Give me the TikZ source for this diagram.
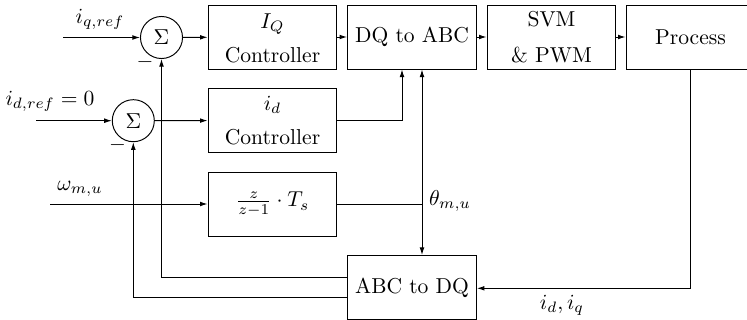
\documentclass[tikz,border=0pt]{standalone}
\usetikzlibrary{arrows.meta,calc}
\tikzset{
  blk/.style={draw, line width=0.45pt, inner sep=0pt, minimum width=2.1cm, minimum height=1.043cm, align=center},
  sumnode/.style={draw, circle, line width=0.45pt, inner sep=0pt, minimum size=0.685cm},
  conn/.style={line width=0.45pt},
  lbl/.style={inner sep=0pt},
  >={Latex[length=3.5pt,width=2.2pt]}
}
\begin{document}
\begin{tikzpicture}[x=0.0163cm, y=-0.0163cm]
\useasboundingbox (0,0) rectangle (747,320);
% blocks
\node[sumnode] (s1) at (161.5,37.5) {$\Sigma$};
\node[sumnode] (s2) at (133.3,120.7) {$\Sigma$};
\node[blk] (iqc) at (272.5,37) {\raisebox{0pt}[8pt][0pt]{$I_Q$}\\[4pt] Controller};
\node[blk] (idc) at (272.5,120.5) {$i_d$\\[4pt] Controller};
\node[blk] (dq) at (412,37) {DQ to ABC};
\node[blk] (svm) at (551.5,37) {SVM\\[4.5pt] \& PWM};
\node[blk] (proc) at (690.5,37) {Process};
\node[blk] (zb) at (272.5,204) {$\frac{z}{z-1}\cdot T_s$};
\node[blk] (abc) at (412,287.5) {ABC to DQ};
% coordinates
\coordinate (iqin) at (63,37.5);
\coordinate (idin) at (36,120.7);
\coordinate (win) at (50,204);
\coordinate (j) at (422,204);
\coordinate (fb1) at (161.5,277.3);
\coordinate (fb2) at (133.3,297.3);
\coordinate (pr) at (690.7,288.3);
\coordinate (idk) at (402,120.5);
% labels
\node[lbl] (liq) at (100,19) {$i_{q,ref}$};
\node[lbl] (lid) at (50,101) {$i_{d,ref}=0$};
\node[lbl] (lw) at (80,189) {$\omega_{m,u}$};
\node[lbl] (lth) at (450,201) {$\theta_{m,u}$};
\node[lbl] (liout) at (562,305) {$i_d,i_q$};
\node[lbl] (m1) at (145,62) {$-$};
\node[lbl] (m2) at (117.5,145) {$-$};
% connectors
\draw[conn,->] (iqin) -- (s1);
\draw[conn,->] (idin) -- (s2);
\draw[conn,->] (s1) -- (iqc);
\draw[conn,->] (s2) -- (idc);
\draw[conn,->] (iqc) -- (dq);
\draw[conn,->] (dq) -- (svm);
\draw[conn,->] (svm) -- (proc);
\draw[conn,->] (idc.east) -- (idk) -- (idk |- dq.south);
\draw[conn,->] (win) -- (zb.west);
\draw[conn] (zb.east) -- (j);
\draw[conn,->] (j) -- (j |- dq.south);
\draw[conn,->] (j) -- (j |- abc.north);
\draw[conn,->] (proc.south -| pr) -- (pr) -- (pr -| abc.east);
\draw[conn,->] (fb1 -| abc.west) -- (fb1) -- (s1.south);
\draw[conn,->] (fb2 -| abc.west) -- (fb2) -- (s2.south);
\end{tikzpicture}
\end{document}
